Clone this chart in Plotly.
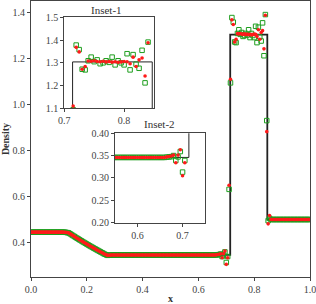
import numpy as np
import plotly.graph_objects as go

# ---------------- data ----------------
# exact solution (piecewise)
exact_x = [0.0, 0.131, 0.15, 0.17, 0.19, 0.21, 0.23, 0.25, 0.271, 0.714, 0.714, 0.847, 0.847, 1.0]
exact_rho = [0.445, 0.445, 0.4303, 0.4151, 0.4003, 0.3860, 0.3721, 0.3587, 0.3458,
             0.3458, 1.304, 1.304, 0.5, 0.5]

# numerical mesh nodes
x_nodes = np.linspace(0.0, 1.0, 201)

rare_vals = [0.4420, 0.4381, 0.4342, 0.4303, 0.4265, 0.4226, 0.4188, 0.4151, 0.4113, 0.4076,
             0.4039, 0.4003, 0.3967, 0.3931, 0.3895, 0.3860, 0.3825, 0.3790, 0.3756, 0.3721,
             0.3688, 0.3654, 0.3620, 0.3587, 0.3554, 0.3521, 0.3489, 0.3462]

red_contact_shock = [0.351, 0.334, 0.351, 0.363, 0.305, 0.334, 0.649, 1.110, 1.368, 1.348, 1.272, 1.284,
                     1.308, 1.307, 1.309, 1.306, 1.305, 1.307, 1.304, 1.306, 1.303, 1.305, 1.302, 1.304, 1.306, 1.305,
                     1.296, 1.325, 1.284, 1.313, 1.321, 1.242, 1.388, 0.882, 0.481, 0.517]
green_contact_shock = [0.350, 0.339, 0.347, 0.359, 0.313, 0.339, 0.631, 1.094, 1.378, 1.358, 1.272, 1.269,
                       1.309, 1.325, 1.305, 1.313, 1.296, 1.300, 1.309, 1.302, 1.325, 1.291, 1.309, 1.300, 1.291, 1.340,
                       1.269, 1.336, 1.294, 1.276, 1.355, 1.212, 1.391, 0.930, 0.495, 0.505]

rho_red = ([0.445] * 24 + [0.4448, 0.4442, 0.4432] + rare_vals +
           [0.3440, 0.3445, 0.3452] + [0.3458] * 75 + [0.347, 0.348, 0.349] +
           red_contact_shock + [0.5] * 29)
rho_green = ([0.445] * 24 + [0.4448, 0.4441, 0.4430] + rare_vals +
             [0.3442, 0.3447, 0.3453] + [0.3458] * 75 + [0.3465, 0.347, 0.3475] +
             green_contact_shock + [0.5] * 29)
assert len(rho_red) == 201 and len(rho_green) == 201

RED = "#ff1a1a"
GREEN = "#1e9e1e"
LINE = "#222222"
FONT = "Liberation Serif"

fig = go.Figure()

subplots = [("x", "y", 1.8), ("x2", "y2", 1.0), ("x3", "y3", 1.0)]
for xa, ya, lw in subplots:
    fig.add_trace(go.Scatter(x=exact_x, y=exact_rho, mode="lines", xaxis=xa, yaxis=ya,
                             line=dict(color=LINE, width=lw), showlegend=False))
    fig.add_trace(go.Scatter(x=x_nodes, y=rho_green, mode="markers", xaxis=xa, yaxis=ya,
                             marker=dict(symbol="square-open", size=4.5, color=GREEN,
                                         line=dict(width=1, color=GREEN)), showlegend=False))
    fig.add_trace(go.Scatter(x=x_nodes, y=rho_red, mode="markers", xaxis=xa, yaxis=ya,
                             marker=dict(symbol="circle", size=3.6, color=RED,
                                         line=dict(width=0)), showlegend=False))

axis_common = dict(showline=True, mirror=True, linecolor="#444", linewidth=1,
                   ticks="outside", ticklen=3, tickcolor="#444", showgrid=False, zeroline=False,
                   automargin=False, ticklabeloverflow="allow",
                   tickfont=dict(family=FONT, size=10, color="#444"))

fig.update_layout(
    template="none",
    width=316, height=304,
    margin=dict(l=31, r=6, t=1, b=27, pad=0),
    paper_bgcolor="white", plot_bgcolor="white",
    font=dict(family=FONT, size=10, color="#444"),
    xaxis=dict(domain=[0, 1], range=[0, 1], tickvals=[0, 0.2, 0.4, 0.6, 0.8, 1.0],
               tickformat=".1f", title=dict(text="<b>x</b>", standoff=1,
                                            font=dict(family=FONT, size=10, color="#333")),
               **axis_common),
    yaxis=dict(domain=[0, 1], range=[0.25, 1.45], tickvals=[0.4, 0.6, 0.8, 1.0, 1.2, 1.4],
               tickformat=".1f", title=dict(text="<b>Density</b>", standoff=3,
                                            font=dict(family=FONT, size=10, color="#333")),
               **axis_common),
    xaxis2=dict(domain=[0.119, 0.441], range=[0.7, 0.85], tickvals=[0.7, 0.8], tickformat=".1f",
                anchor="y2", **axis_common),
    yaxis2=dict(domain=[0.611, 0.941], range=[1.1, 1.5], tickvals=[1.1, 1.2, 1.3, 1.4, 1.5],
                tickformat=".1f", anchor="x2", **axis_common),
    xaxis3=dict(domain=[0.301, 0.624], range=[0.55, 0.75], tickvals=[0.6, 0.7], tickformat=".1f",
                anchor="y3", **axis_common),
    yaxis3=dict(domain=[0.197, 0.521], range=[0.2, 0.4], tickvals=[0.2, 0.25, 0.3, 0.35, 0.4],
                tickformat=".2f", anchor="x3", **axis_common),
    annotations=[
        dict(text="Inset-1", xref="paper", yref="paper", x=0.269, y=0.967, showarrow=False,
             font=dict(family=FONT, size=11, color="#333"), xanchor="center", yanchor="middle"),
        dict(text="Inset-2", xref="paper", yref="paper", x=0.462, y=0.554, showarrow=False,
             font=dict(family=FONT, size=11, color="#333"), xanchor="center", yanchor="middle"),
    ],
)

fig.write_html("out.html", config={"displayModeBar": False},
               post_script="document.body.style.margin='0';document.body.style.overflow='hidden';")
